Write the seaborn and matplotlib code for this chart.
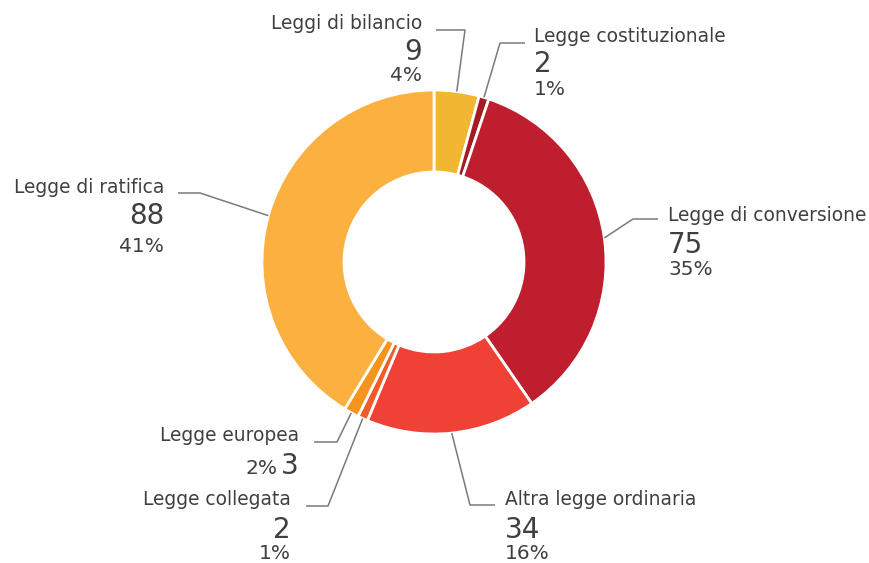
import numpy as np
import matplotlib
matplotlib.use("Agg")
import matplotlib.pyplot as plt
import seaborn as sns

# ---- data ----
categories = ["Leggi di bilancio", "Legge costituzionale", "Legge di conversione",
              "Altra legge ordinaria", "Legge collegata", "Legge europea", "Legge di ratifica"]
counts = [9, 2, 75, 34, 2, 3, 88]
percent_labels = ["4%", "1%", "35%", "16%", "1%", "2%", "41%"]
colors = ["#F2B731", "#A31C22", "#BE1E2D", "#EF4136", "#F15A29", "#F7941D", "#FBB040"]

# ---- layout (pixel coordinates, y from top) ----
W, H = 870, 563
CX, CY = 434, 262
R_OUT, R_IN = 172, 90
# (text x, ha, title baseline, number baseline, pct baseline, elbow points of leader)
layout = [
    (422, "right", 29, 60, 81, [(465, 30), (436, 30)]),
    (534, "left", 42, 72, 95, [(500, 43), (525, 43)]),
    (668, "left", 221, 253, 275, [(633, 219), (658, 219)]),
    (505, "left", 505, 538, 559, [(470, 505), (495, 505)]),
    (291, "right", 505, 538, 559, [(328, 506), (306, 506)]),
    (299, "right", 441, 474, None, [(337, 442), (314, 442)]),
    (164, "right", 193, 224, 252, [(200, 193), (178, 193)]),
]

sns.set_theme(style="white")
plt.rcParams["font.family"] = ["DejaVu Sans"]
TXT = "#3f3f41"
LINE = "#7a7a7a"

fig = plt.figure(figsize=(W / 100, H / 100), dpi=100)
ax = fig.add_axes([0, 0, 1, 1])

def fy(py):
    return H - py

ax.pie(counts, colors=colors, startangle=90, counterclock=False,
       radius=R_OUT, center=(CX, fy(CY)), frame=True,
       wedgeprops=dict(width=R_OUT - R_IN, edgecolor="white", linewidth=2))
ax.set_xlim(0, W)
ax.set_ylim(0, H)
ax.set_aspect("equal")
ax.axis("off")

total = sum(counts)
cum = np.cumsum([0] + counts[:-1])
for i, (cat, n, pct) in enumerate(zip(categories, counts, percent_labels)):
    tx, ha, yb_t, yb_n, yb_p, elbows = layout[i]
    frac = (cum[i] + n / 2) / total
    ang = np.deg2rad(90 - 360 * frac)
    ax0 = CX + R_OUT * np.cos(ang)
    ay0 = fy(CY) + R_OUT * np.sin(ang)
    xs = [ax0] + [e[0] for e in elbows]
    ys = [ay0] + [fy(e[1]) for e in elbows]
    ax.plot(xs, ys, color=LINE, lw=1.1, solid_capstyle="butt")
    ax.text(tx, fy(yb_t), cat, ha=ha, va="baseline", fontsize=13.4, color=TXT)
    if yb_p is None:
        ax.text(tx, fy(yb_n), str(n), ha=ha, va="baseline", fontsize=20, color=TXT)
        ax.text(tx - 21, fy(yb_n), pct, ha="right", va="baseline", fontsize=14.5, color=TXT)
    else:
        ax.text(tx, fy(yb_n), str(n), ha=ha, va="baseline", fontsize=20, color=TXT)
        ax.text(tx, fy(yb_p), pct, ha=ha, va="baseline", fontsize=14.5, color=TXT)

fig.savefig("out.png", dpi=100, facecolor="white")
